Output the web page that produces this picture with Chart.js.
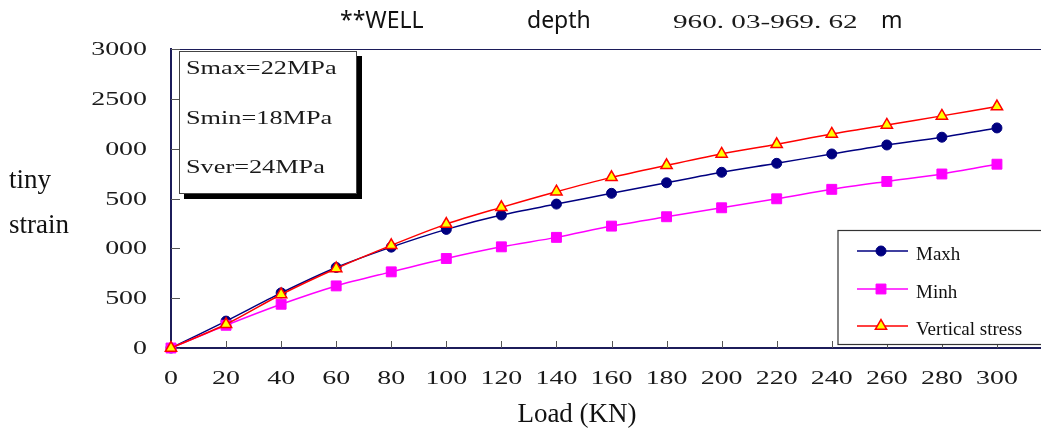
<!DOCTYPE html>
<html>
<head>
<meta charset="utf-8">
<script src="https://cdn.jsdelivr.net/npm/chart.js@4.4.1/dist/chart.umd.min.js"></script>
<style>
  html, body { margin: 0; padding: 0; background: #fff; }
</style>
</head>
<body>
<canvas id="strainChart" width="1041" height="432"></canvas>
<script>
// data
const loads = [0, 20, 40, 60, 80, 100, 120, 140, 160, 180, 200, 220, 240, 260, 280, 300];
const maxh = [0, 270, 553, 808, 1012, 1190, 1334, 1444, 1552, 1658, 1763, 1853, 1947, 2037, 2115, 2208];
const minh = [0, 228, 439, 623, 764, 898, 1015, 1110, 1223, 1317, 1407, 1497, 1592, 1671, 1746, 1844];
const vertical = [0, 238, 537, 798, 1030, 1243, 1411, 1568, 1712, 1833, 1947, 2044, 2148, 2238, 2329, 2423];
const yTickValues = [0, 500, 1000, 1500, 2000, 2500, 3000];
const yTickLabels = ['0', '500', '000', '500', '000', '2500', '3000'];
const stressNotes = ['Smax=22MPa', 'Smin=18MPa', 'Sver=24MPa'];
const seriesNames = ['Maxh', 'Minh', 'Vertical stress'];

const WIDE = 1.55;
const AXIS = '#1c1c5a';

// serif text stretched sideways, like the wide font in the original
function wideText(ctx, str, x, y, align, size, stretch) {
    ctx.save();
    ctx.font = size + 'px "Liberation Serif"';
    ctx.fillStyle = '#1a1a1a';
    ctx.textBaseline = 'alphabetic';
    ctx.textAlign = 'left';
    const s = stretch || WIDE;
    const w = ctx.measureText(str).width * s;
    let left = x;
    if (align === 'right') left = x - w;
    else if (align === 'center') left = x - w / 2;
    ctx.translate(left, y);
    ctx.scale(s, 1);
    ctx.fillText(str, 0, 0);
    ctx.restore();
}

const overlay = {
    id: 'overlay',
    beforeDatasetsDraw(chart) {
        const ctx = chart.ctx;
        const area = chart.chartArea;
        const xs = chart.scales.x, ys = chart.scales.y;
        ctx.save();
        // top frame line
        ctx.strokeStyle = AXIS;
        ctx.lineWidth = 1;
        ctx.beginPath();
        ctx.moveTo(area.left, area.top + 0.5);
        ctx.lineTo(area.right, area.top + 0.5);
        ctx.stroke();
        // inward tick marks
        ctx.strokeStyle = '#555';
        ctx.beginPath();
        yTickValues.forEach(v => {
            const py = Math.round(ys.getPixelForValue(v)) + 0.5;
            ctx.moveTo(area.left, py);
            ctx.lineTo(area.left + 9, py);
        });
        loads.forEach(v => {
            const px = Math.round(xs.getPixelForValue(v)) + 0.5;
            ctx.moveTo(px, area.bottom);
            ctx.lineTo(px, area.bottom - 7);
        });
        ctx.stroke();
        ctx.restore();
    },
    afterDraw(chart) {
        const ctx = chart.ctx;
        const xs = chart.scales.x, ys = chart.scales.y;

        // tick labels
        yTickValues.forEach((v, i) => {
            wideText(ctx, yTickLabels[i], 147, ys.getPixelForValue(v) + 6, 'right', 18);
        });
        loads.forEach(v => {
            wideText(ctx, String(v), xs.getPixelForValue(v), 384, 'center', 18);
        });

        ctx.save();
        // stress note box with shadow
        ctx.fillStyle = '#000';
        ctx.fillRect(184, 56, 178, 143);
        ctx.fillStyle = '#fff';
        ctx.fillRect(179.5, 51.5, 177, 142);
        ctx.strokeStyle = '#444';
        ctx.lineWidth = 1;
        ctx.strokeRect(179.5, 51.5, 177, 142);
        ctx.restore();
        stressNotes.forEach((t, i) => {
            wideText(ctx, t, 186, 74 + i * 49.5, 'left', 18.5, 1.42);
        });

        // legend box
        ctx.save();
        ctx.fillStyle = '#fff';
        ctx.fillRect(838, 230.5, 210, 114);
        ctx.strokeStyle = '#333';
        ctx.lineWidth = 1.2;
        ctx.strokeRect(838, 230.5, 210, 114);
        const rows = [251, 289, 326];
        chart.data.datasets.forEach((ds, i) => {
            const y = rows[i];
            ctx.strokeStyle = ds.borderColor;
            ctx.lineWidth = 1.5;
            ctx.beginPath();
            ctx.moveTo(857, y);
            ctx.lineTo(908, y);
            ctx.stroke();
            ctx.fillStyle = ds.pointBackgroundColor;
            ctx.strokeStyle = ds.pointBorderColor;
            ctx.lineWidth = ds.pointBorderWidth;
            Chart.helpers.drawPoint(ctx, {
                pointStyle: ds.pointStyle,
                radius: ds.pointRadius,
                rotation: 0,
                borderWidth: ds.pointBorderWidth
            }, 881, y);
            ctx.fillStyle = '#111';
            ctx.font = '19px "Liberation Serif"';
            ctx.textAlign = 'left';
            ctx.textBaseline = 'alphabetic';
            ctx.fillText(seriesNames[i], 916, y + 9);
        });

        // title and axis titles
        ctx.fillStyle = '#111';
        ctx.font = '23px "Noto Sans"';
        ctx.fillText('**WELL', 340, 28);
        ctx.fillText('depth', 527, 28);
        ctx.fillText('m', 881, 28);
        ctx.restore();
        wideText(ctx, '960. 03-969. 62', 673, 28, 'left', 18, 1.62);

        ctx.save();
        ctx.fillStyle = '#111';
        ctx.font = '27px "Liberation Serif"';
        ctx.fillText('tiny', 9, 188);
        ctx.fillText('strain', 9, 233);
        ctx.textAlign = 'center';
        ctx.fillText('Load (KN)', 577, 422);
        ctx.restore();
    }
};

function points(values) {
    return loads.map((x, i) => ({ x: x, y: values[i] }));
}

const ctx = document.getElementById('strainChart').getContext('2d');
const strainChart = new Chart(ctx, {
    type: 'line',
    data: {
        datasets: [
            {
                label: seriesNames[0],
                data: points(maxh),
                borderColor: '#000080',
                borderWidth: 1.5,
                pointStyle: 'circle',
                pointRadius: 5,
                pointBackgroundColor: '#000080',
                pointBorderColor: '#000080',
                pointBorderWidth: 1,
                tension: 0.3,
                clip: false,
                order: 2
            },
            {
                label: seriesNames[1],
                data: points(minh),
                borderColor: '#ff00ff',
                borderWidth: 1.5,
                pointStyle: 'rect',
                pointRadius: 7,
                pointBackgroundColor: '#ff00ff',
                pointBorderColor: '#ff00ff',
                pointBorderWidth: 1,
                tension: 0.3,
                clip: false,
                order: 1
            },
            {
                label: seriesNames[2],
                data: points(vertical),
                borderColor: '#ff0000',
                borderWidth: 1.5,
                pointStyle: 'triangle',
                pointRadius: 6.5,
                pointBackgroundColor: '#ffff00',
                pointBorderColor: '#ff0000',
                pointBorderWidth: 1.5,
                tension: 0.3,
                clip: false,
                order: 0
            }
        ]
    },
    options: {
        responsive: false,
        animation: false,
        devicePixelRatio: 1,
        layout: { autoPadding: false, padding: { top: 49, left: 0, right: 0, bottom: 0 } },
        plugins: {
            legend: { display: false },
            tooltip: { enabled: false }
        },
        scales: {
            x: {
                type: 'linear',
                min: 0,
                max: 316,
                ticks: { display: false },
                grid: { display: false },
                border: { color: AXIS, width: 2 },
                afterFit: s => { s.height = 84; }
            },
            y: {
                min: 0,
                max: 3000,
                ticks: { display: false },
                grid: { display: false },
                border: { color: AXIS, width: 2 },
                afterFit: s => { s.width = 171; }
            }
        }
    },
    plugins: [overlay]
});
</script>
</body>
</html>
